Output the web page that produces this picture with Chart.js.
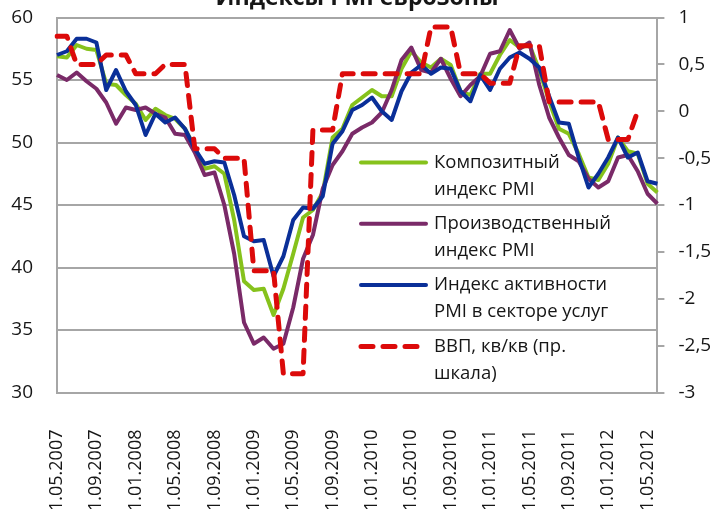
<!DOCTYPE html>
<html lang="ru">
<head>
	<meta charset="UTF-8">
	<title>Индексы PMI еврозоны</title>
	<script src="https://cdn.jsdelivr.net/npm/chart.js@4.4.0/dist/chart.umd.min.js"></script>
	<style>
		html, body { margin: 0; padding: 0; background: #fff; }
		#wrap { width: 716px; height: 509px; overflow: hidden; }
	</style>
</head>
<body>

	<div id="wrap">
		<canvas id="pmi-chart" width="716" height="509"></canvas>
	</div>

	<script>
		// --- data -------------------------------------------------------
		var chartTitle = 'Индексы PMI еврозоны';

		// monthly categories, 01.05.2007 .. 01.06.2012
		var startYear = 2007, startMonth = 5, monthCount = 62;
		var months = [];
		for (var i = 0; i < monthCount; i++) {
			var m = (startMonth - 1 + i) % 12 + 1;
			var y = startYear + Math.floor((startMonth - 1 + i) / 12);
			months.push('01.' + (m < 10 ? '0' + m : m) + '.' + y);
		}

		// labels that are actually printed under the axis
		var tickLabels = ['01.05.2007', '01.09.2007', '01.01.2008', '01.05.2008',
			'01.09.2008', '01.01.2009', '01.05.2009', '01.09.2009',
			'01.01.2010', '01.05.2010', '01.09.2010', '01.01.2011',
			'01.05.2011', '01.09.2011', '01.01.2012', '01.05.2012'];

		var composite = [
			56.9, 56.8, 57.8, 57.5, 57.4, 54.7, 54.6, 53.8, 53.1,
			51.8, 52.7, 52.2, 51.9, 51.1, 49.6, 47.9, 48.1, 47.5, 43.8, 38.9, 38.2,
			38.3, 36.2, 38.3, 41.1, 44.0, 44.6, 46.0, 50.4, 51.1, 53.0, 53.6, 54.2,
			53.7, 53.7, 55.9, 57.3, 56.4, 56.0, 56.7, 56.2, 54.1, 53.8, 55.5, 55.5,
			57.0, 58.2, 57.6, 57.8, 55.8, 53.3, 51.1, 50.7, 49.1, 47.2, 47.0, 48.3,
			50.4, 49.3, 49.1, 46.7, 46.0];

		var manufacturing = [
			55.4, 55.0, 55.6, 54.9, 54.3, 53.2, 51.5, 52.8, 52.6,
			52.8, 52.3, 52.0, 50.7, 50.6, 49.2, 47.4, 47.6, 45.0, 41.1, 35.6, 33.9,
			34.4, 33.5, 33.9, 36.8, 40.7, 42.6, 46.3, 48.2, 49.3, 50.7, 51.2, 51.6,
			52.4, 54.2, 56.6, 57.6, 55.8, 55.6, 56.7, 55.1, 53.7, 54.6, 55.3, 57.1,
			57.3, 59.0, 57.5, 58.0, 54.6, 52.0, 50.4, 49.0, 48.5, 47.1, 46.4, 46.9,
			48.8, 49.0, 47.7, 45.9, 45.1];

		var services = [
			57.0, 57.3, 58.3, 58.3, 58.0, 54.2, 55.8, 54.1, 53.0,
			50.6, 52.3, 51.6, 52.0, 51.1, 49.5, 48.3, 48.5, 48.4, 45.8, 42.5, 42.1,
			42.2, 39.3, 40.9, 43.8, 44.8, 44.7, 45.7, 49.9, 50.9, 52.6, 53.0, 53.6,
			52.5, 51.8, 54.1, 55.6, 56.2, 55.5, 56.0, 55.9, 54.1, 53.3, 55.4, 54.2,
			55.9, 56.8, 57.2, 56.7, 56.0, 53.7, 51.6, 51.5, 48.8, 46.4, 47.5, 48.8,
			50.4, 48.8, 49.2, 46.9, 46.7];

		// GDP q/q, %, quarterly value repeated for each month (right scale)
		var gdp = [
			0.8, 0.8, 0.5, 0.5, 0.5, 0.6, 0.6, 0.6, 0.4, 0.4, 0.4,
			0.5, 0.5, 0.5, -0.4, -0.4, -0.4, -0.5, -0.5, -0.5,
			-1.7, -1.7, -1.7, -2.8, -2.8, -2.8, -0.2, -0.2, -0.2,
			0.4, 0.4, 0.4, 0.4, 0.4, 0.4, 0.4, 0.4, 0.4,
			0.9, 0.9, 0.9, 0.4, 0.4, 0.4, 0.3, 0.3, 0.3, 0.7, 0.7, 0.7,
			0.1, 0.1, 0.1, 0.1, 0.1, 0.1, -0.3, -0.3, -0.3, 0.0, null, null];

		var seriesNames = [
			['Композитный', 'индекс PMI'],
			['Производственный', 'индекс PMI'],
			['Индекс активности', 'PMI в секторе услуг'],
			['ВВП, кв/кв (пр.', 'шкала)']
		];

		// --- styles -----------------------------------------------------
		var fontFamily = '"Open Sans", "Noto Sans", sans-serif';
		var gridColor = '#a6a6a6';
		var textColor = '#161616';
		var colGreen = '#86c21c';
		var colPurple = '#7a2a68';
		var colBlue = '#0a2f98';
		var colRed = '#dc0a0a';
		var redDash = [12, 10];

		// title, only its lower part fits into the picture
		var titlePlugin = {
			id: 'cutTitle',
			afterDraw: function (chart) {
				var ctx = chart.ctx;
				ctx.save();
				ctx.font = 'bold 23px ' + fontFamily;
				ctx.fillStyle = textColor;
				ctx.textAlign = 'center';
				ctx.textBaseline = 'alphabetic';
				ctx.fillText(chartTitle, 357, 5);
				ctx.restore();
			}
		};

		// legend inside the plot, lower right
		var legendPlugin = {
			id: 'innerLegend',
			afterDraw: function (chart) {
				var ctx = chart.ctx;
				ctx.save();
				ctx.font = '18.5px ' + fontFamily;
				ctx.textBaseline = 'middle';
				ctx.textAlign = 'left';
				chart.data.datasets.forEach(function (ds, k) {
					var yy = 162.5 + k * 61.3;
					ctx.beginPath();
					ctx.strokeStyle = ds.borderColor;
					ctx.lineWidth = ds.borderWidth;
					ctx.lineCap = 'round';
					ctx.setLineDash(ds.borderDash || []);
					ctx.moveTo(361, yy);
					ctx.lineTo(426, yy);
					ctx.stroke();
					ctx.setLineDash([]);
					ctx.fillStyle = textColor;
					ctx.fillText(seriesNames[k][0], 434, yy);
					ctx.fillText(seriesNames[k][1], 434, yy + 27);
				});
				ctx.restore();
			}
		};

		// vertical scales add tick padding on top/bottom, drop it
		function fixVertical(width) {
			return function (s) {
				s.width = width;
				s.paddingTop = 0;
				s.paddingBottom = 0;
			};
		}

		new Chart(document.getElementById('pmi-chart'), {
			type: 'line',
			data: {
				labels: months,
				datasets: [
					{
						label: seriesNames[0].join(' '),
						data: composite,
						borderColor: colGreen,
						borderWidth: 4,
						yAxisID: 'y',
						order: 3
					},
					{
						label: seriesNames[1].join(' '),
						data: manufacturing,
						borderColor: colPurple,
						borderWidth: 4,
						yAxisID: 'y',
						order: 2
					},
					{
						label: seriesNames[2].join(' '),
						data: services,
						borderColor: colBlue,
						borderWidth: 4,
						yAxisID: 'y',
						order: 1
					},
					{
						label: seriesNames[3].join(' '),
						data: gdp,
						borderColor: colRed,
						borderWidth: 5,
						borderDash: redDash,
						borderCapStyle: 'round',
						yAxisID: 'y1',
						order: 0
					}
				]
			},
			options: {
				responsive: false,
				animation: false,
				layout: { padding: { top: 17.5, left: 0, right: 0, bottom: 0 } },
				elements: {
					point: { radius: 0 },
					line: { tension: 0, fill: false, borderJoinStyle: 'round' }
				},
				plugins: {
					legend: { display: false },
					title: { display: false },
					tooltip: { enabled: false }
				},
				scales: {
					x: {
						type: 'category',
						offset: false,
						grid: { display: false, drawTicks: false },
						border: { display: true, color: gridColor, width: 2 },
						ticks: {
							autoSkip: false,
							minRotation: 90,
							maxRotation: 90,
							padding: 37,
							color: textColor,
							font: { family: fontFamily, size: 18 },
							callback: function (val) {
								var l = this.getLabelForValue(val);
								return tickLabels.indexOf(l) >= 0 ? l : '';
							}
						},
						afterFit: function (s) { s.height = 116.5; }
					},
					y: {
						position: 'left',
						min: 30,
						max: 60,
						ticks: {
							stepSize: 5,
							padding: 24,
							color: textColor,
							font: { family: fontFamily, size: 19 }
						},
						grid: { color: gridColor, lineWidth: 2, drawTicks: false },
						border: { display: true, color: gridColor, width: 2 },
						afterFit: fixVertical(57)
					},
					y1: {
						position: 'right',
						min: -3,
						max: 1,
						ticks: {
							stepSize: 0.5,
							padding: 14,
							color: textColor,
							font: { family: fontFamily, size: 19 },
							callback: function (v) { return String(v).replace('.', ','); }
						},
						grid: { drawOnChartArea: false, drawTicks: true, tickLength: 7, color: gridColor, lineWidth: 2 },
						border: { display: true, color: gridColor, width: 2 },
						afterFit: fixVertical(56)
					}
				}
			},
			plugins: [titlePlugin, legendPlugin]
		});
	</script>
</body>
</html>
